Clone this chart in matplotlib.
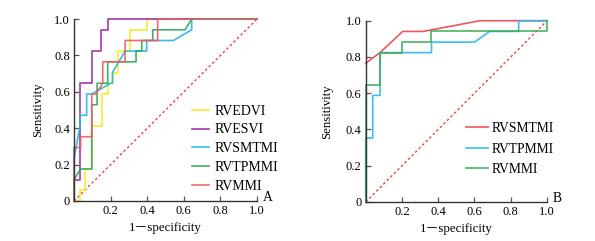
import matplotlib
matplotlib.use("Agg")
import matplotlib.pyplot as plt

# ---------------- Data (panel A) ----------------
a_names = ["RVEDVI", "RVESVI", "RVSMTMI", "RVTPMMI", "RVMMI"]
a_colors = ["#ffe81a", "#9b22a0", "#22b4f0", "#2aa55a", "#f05a64"]

rvedvi_x = [0, 0.033, 0.033, 0.06, 0.06, 0.097, 0.097, 0.153, 0.153, 0.184, 0.184, 0.215, 0.215,
            0.242, 0.242, 0.308, 0.308, 0.397, 0.397, 1.0]
rvedvi_y = [0, 0, 0.059, 0.059, 0.176, 0.176, 0.412, 0.412, 0.588, 0.588, 0.647, 0.647, 0.706,
            0.706, 0.824, 0.824, 0.941, 0.941, 1.0, 1.0]

rvesvi_x = [0, 0, 0.033, 0.033, 0.097, 0.097, 0.148, 0.148, 0.188, 0.188, 1.0]
rvesvi_y = [0, 0.118, 0.118, 0.647, 0.647, 0.824, 0.824, 0.941, 0.941, 1.0, 1.0]

rvsmtmi_a_x = [0, 0, 0.033, 0.033, 0.069, 0.069, 0.097, 0.2, 0.21, 0.21, 0.279, 0.397, 0.397,
               0.543, 0.643, 0.643, 1.0]
rvsmtmi_a_y = [0, 0.235, 0.412, 0.471, 0.471, 0.588, 0.588, 0.647, 0.647, 0.706, 0.824, 0.824,
               0.882, 0.882, 0.941, 1.0, 1.0]

rvtpmmi_a_x = [0, 0, 0.036, 0.097, 0.097, 0.126, 0.126, 0.184, 0.184, 0.339, 0.339, 0.37, 0.37,
               0.43, 0.43, 0.607, 0.643, 1.0]
rvtpmmi_a_y = [0, 0.118, 0.176, 0.176, 0.529, 0.529, 0.647, 0.647, 0.765, 0.765, 0.824, 0.824,
               0.882, 0.882, 0.941, 0.941, 1.0, 1.0]

rvmmi_a_x = [0, 0, 0.036, 0.036, 0.097, 0.097, 0.12, 0.157, 0.157, 0.279, 0.279, 0.457, 0.457, 1.0]
rvmmi_a_y = [0, 0.294, 0.294, 0.353, 0.353, 0.588, 0.588, 0.647, 0.765, 0.765, 0.882, 0.882, 1.0, 1.0]

# ---------------- Data (panel B) ----------------
b_names = ["RVSMTMI", "RVTPMMI", "RVMMI"]
b_colors = ["#e8424e", "#2ab6f0", "#3aaa50"]

rvsmtmi_b_x = [0, 0.079, 0.204, 0.318, 0.63, 1.0]
rvsmtmi_b_y = [0.765, 0.824, 0.941, 0.941, 1.0, 1.0]

rvtpmmi_b_x = [0, 0, 0.039, 0.039, 0.079, 0.079, 0.363, 0.363, 0.6, 0.684, 0.844, 0.844, 1.0]
rvtpmmi_b_y = [0, 0.353, 0.353, 0.588, 0.588, 0.824, 0.824, 0.882, 0.882, 0.941, 0.941, 1.0, 1.0]

rvmmi_b_x = [0, 0, 0.079, 0.079, 0.2, 0.2, 0.36, 0.36, 1.0, 1.0]
rvmmi_b_y = [0, 0.647, 0.647, 0.824, 0.824, 0.882, 0.882, 0.941, 0.941, 1.0]

x_ticks = [0.2, 0.4, 0.6, 0.8, 1.0]
x_tick_labels = ["0.2", "0.4", "0.6", "0.8", "1.0"]
y_ticks = [0, 0.2, 0.4, 0.6, 0.8, 1.0]
y_tick_labels = ["0", "0.2", "0.4", "0.6", "0.8", "1.0"]

plt.rcParams['font.family'] = ['Liberation Serif', 'Noto Sans CJK SC', 'DejaVu Sans']

fig = plt.figure(figsize=(5.95, 2.41), dpi=100)
axA = fig.add_axes([0.1244, 0.166, 0.3076, 0.755])
axB = fig.add_axes([0.6146, 0.162, 0.3047, 0.752])


def style(ax, letter, ylabelpad):
    ax.set_xlim(0, 1.0)
    ax.set_ylim(0, 1.0)
    for s in ["top", "right"]:
        ax.spines[s].set_visible(False)
    for s in ["left", "bottom"]:
        ax.spines[s].set_color("#333333")
        ax.spines[s].set_linewidth(1.0)
    ax.set_xticks(x_ticks)
    ax.set_xticklabels(x_tick_labels)
    ax.set_yticks(y_ticks)
    ax.set_yticklabels(y_tick_labels)
    ax.tick_params(direction="in", length=3.5, width=0.9, color="#555555",
                   labelsize=9, pad=3)
    ax.set_ylabel("Sensitivity", fontsize=9.3, labelpad=ylabelpad)
    ax.set_xlabel("1\uff0dspecificity", fontsize=9.3, labelpad=3.5)
    ax.plot([0, 1], [0, 1], color="#e8424e", lw=1.0, linestyle=(0, (1.8, 1.8)), clip_on=False)
    ax.text(1.03, 0.02, letter, transform=ax.transAxes, fontsize=9.8, ha="left", va="center")


style(axA, "A", 7)
style(axB, "B", 9)

a_series = [(rvedvi_x, rvedvi_y), (rvesvi_x, rvesvi_y), (rvsmtmi_a_x, rvsmtmi_a_y),
            (rvtpmmi_a_x, rvtpmmi_a_y), (rvmmi_a_x, rvmmi_a_y)]
for (xs, ys), c, n in zip(a_series, a_colors, a_names):
    axA.plot(xs, ys, color=c, lw=1.2, label=n, clip_on=False, alpha=0.9)

b_series = [(rvsmtmi_b_x, rvsmtmi_b_y), (rvtpmmi_b_x, rvtpmmi_b_y), (rvmmi_b_x, rvmmi_b_y)]
for (xs, ys), c, n in zip(b_series, b_colors, b_names):
    axB.plot(xs, ys, color=c, lw=1.2, label=n, clip_on=False, alpha=0.9)

axA.legend(loc="upper left", bbox_to_anchor=(0.645, 0.53), frameon=False, fontsize=10,
           handlelength=1.25, handletextpad=0.35, labelspacing=0.42, borderpad=0, borderaxespad=0)
axB.legend(loc="upper left", bbox_to_anchor=(0.552, 0.44), frameon=False, fontsize=9.8,
           handlelength=1.6, handletextpad=0.3, labelspacing=0.55, borderpad=0, borderaxespad=0)

fig.savefig("out.png", dpi=100)
